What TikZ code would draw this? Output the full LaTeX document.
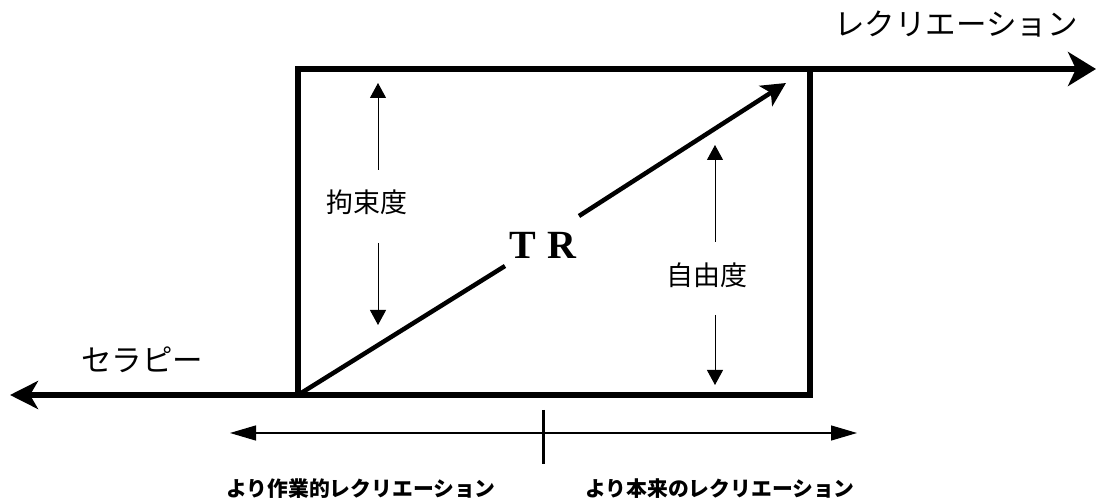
\documentclass[tikz,border=0pt]{standalone}
\usepackage{fontspec}
\setmainfont{Liberation Serif}
\newfontfamily\jp{Noto Sans CJK JP}
\usetikzlibrary{arrows.meta}
\begin{document}
\begin{tikzpicture}[x=1pt,y=-1pt,
  thickline/.style={line width=6pt},
  thinarrow/.style={line width=1pt,-{Triangle[length=15pt,width=16pt]}},
  jplabel/.style={font=\jp\fontsize{27}{29}\selectfont,inner sep=1pt},
  biglabel/.style={font=\jp\fontsize{30.5}{32}\selectfont,inner sep=1pt},
  botlabel/.style={font=\jp\bfseries\fontsize{20.8}{22}\selectfont,inner sep=1pt}]
\useasboundingbox (0,0) rectangle (1096,502);
% box corners
\coordinate (bl) at (298,395);
\coordinate (tr) at (810,69);
\coordinate (rend) at (1096,69);
\coordinate (lend) at (10,395);
\draw[thickline,line join=miter] (bl) rectangle (tr);
\draw[thickline,-{Stealth[length=28pt,width=34pt,inset=8pt]}] (tr) -- (rend);
\draw[thickline,-{Stealth[length=28pt,width=28pt,inset=8pt]}] (bl) -- (lend);
% diagonal
\node[font=\bfseries\fontsize{40}{42}\selectfont,inner sep=0pt] (tr1) at (543,245) {T\hspace{0.3em}R};
\coordinate (d1) at (505,266);
\coordinate (d2) at (579,216);
\coordinate (dtip) at (786,83);
\draw[line width=4.5pt] (bl) -- (d1);
\draw[line width=4.5pt,-{Stealth[length=24pt,width=24pt,inset=6pt]}] (d2) -- (dtip);
% restraint
\node[jplabel] (kou) at (367,202) {拘束度};
\coordinate (k1) at (378,83);
\coordinate (k2) at (378,325);
\draw[thinarrow] (378,170) -- (k1);
\draw[thinarrow] (378,243) -- (k2);
% freedom
\node[jplabel] (jiyu) at (707,275) {自由度};
\coordinate (j1) at (715,145);
\coordinate (j2) at (715,385);
\draw[thinarrow] (715,242) -- (j1);
\draw[thinarrow] (715,315) -- (j2);
% side labels
\node[biglabel] (rec) at (956,24) {レクリエーション};
\node[biglabel] (ther) at (142,360) {セラピー};
% bottom scale
\coordinate (sc) at (543,433);
\coordinate (sl) at (230,433);
\coordinate (sr) at (857,433);
\draw[line width=1.3pt,-{Triangle[length=26pt,width=15pt]}] (sc) -- (sl);
\draw[line width=1.3pt,-{Triangle[length=26pt,width=15pt]}] (sc) -- (sr);
\draw[line width=3pt] (543,410) -- (543,464);
\node[botlabel] (b1) at (361,489) {より作業的レクリエーション};
\node[botlabel] (b2) at (720,489) {より本来のレクリエーション};
\end{tikzpicture}
\end{document}
